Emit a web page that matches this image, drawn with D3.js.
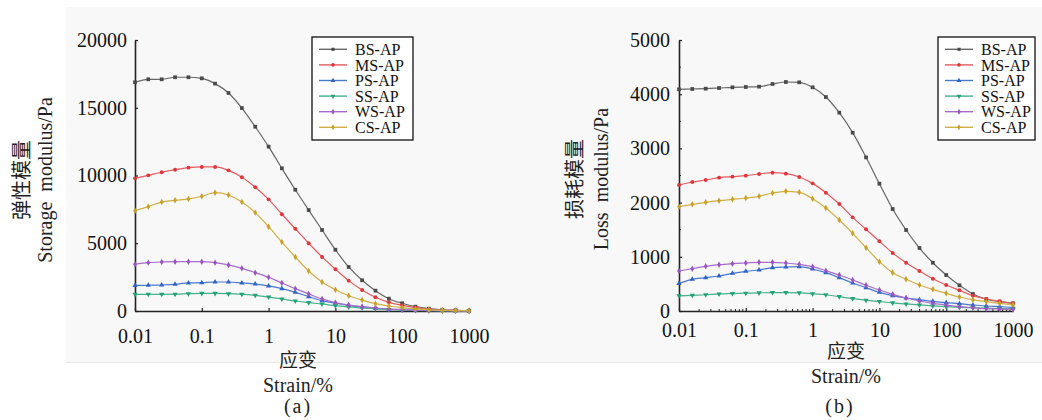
<!DOCTYPE html>
<html><head><meta charset="utf-8">
<script src="https://cdn.jsdelivr.net/npm/d3@7"></script>
<style>
html,body{margin:0;padding:0;background:#fff;}
svg{display:block;}
</style>
</head><body>
<svg id="chart" width="1042" height="420"></svg>
<script>
// ---- data ----
const strain = [0.01, 0.0158, 0.0251, 0.0398, 0.0631, 0.1, 0.158, 0.251, 0.398, 0.631, 1, 1.58, 2.51, 3.98, 6.31, 10, 15.8, 25.1, 39.8, 63.1, 100, 158, 251, 398, 631, 1000];
const seriesNames = ["BS-AP", "MS-AP", "PS-AP", "SS-AP", "WS-AP", "CS-AP"];
const xTickValues = [0.01, 0.1, 1, 10, 100, 1000];
const xTickLabels = ["0.01", "0.1", "1", "10", "100", "1000"];
const storageTicks = [0, 5000, 10000, 15000, 20000];
const lossTicks = [0, 1000, 2000, 3000, 4000, 5000];

const storageBS = [16880, 17100, 17100, 17250, 17250, 17170, 16780, 16090, 14980, 13600, 12130, 10530, 8950, 7450, 5980, 4520, 3250, 2270, 1500, 910, 570, 320, 170, 90, 50, 20];
const storageMS = [9790, 10010, 10240, 10430, 10580, 10630, 10630, 10380, 9870, 9130, 8240, 7140, 6070, 5000, 3990, 3080, 2240, 1550, 1010, 640, 420, 250, 140, 80, 40, 20];
const storagePS = [1890, 1900, 1920, 1970, 2070, 2090, 2140, 2140, 2070, 1990, 1850, 1650, 1380, 1060, 760, 570, 420, 300, 200, 130, 90, 60, 40, 30, 20, 15];
const storageSS = [1230, 1230, 1230, 1240, 1280, 1300, 1300, 1280, 1230, 1160, 1030, 890, 740, 620, 520, 390, 300, 220, 160, 110, 80, 50, 30, 20, 15, 10];
const storageWS = [3450, 3570, 3620, 3640, 3640, 3640, 3570, 3400, 3150, 2830, 2490, 2070, 1650, 1260, 890, 620, 440, 320, 220, 150, 100, 60, 40, 25, 15, 10];
const storageCS = [7400, 7700, 8040, 8170, 8270, 8470, 8730, 8560, 8040, 7260, 6220, 5090, 3990, 2950, 2140, 1570, 1130, 810, 540, 370, 250, 150, 90, 50, 30, 15];

const lossBS = [4090, 4096, 4102, 4114, 4127, 4133, 4139, 4188, 4225, 4219, 4127, 3948, 3659, 3290, 2835, 2349, 1882, 1494, 1162, 891, 664, 474, 314, 216, 172, 142];
const lossMS = [2325, 2380, 2417, 2460, 2479, 2497, 2528, 2552, 2534, 2472, 2355, 2183, 1974, 1728, 1507, 1286, 1070, 891, 738, 596, 480, 382, 283, 221, 179, 142];
const lossPS = [510, 585, 615, 646, 695, 732, 756, 800, 812, 818, 775, 707, 615, 517, 430, 345, 283, 240, 209, 179, 154, 135, 111, 92, 80, 68];
const lossSS = [280, 290, 300, 315, 322, 328, 335, 340, 340, 335, 318, 300, 265, 230, 200, 175, 150, 130, 112, 95, 80, 68, 60, 52, 46, 40];
const lossWS = [738, 781, 824, 855, 873, 886, 898, 898, 886, 861, 818, 744, 664, 572, 474, 387, 308, 240, 185, 142, 111, 80, 62, 43, 37, 30];
const lossCS = [1925, 1968, 2005, 2035, 2060, 2085, 2116, 2177, 2208, 2190, 2072, 1900, 1679, 1433, 1168, 910, 707, 585, 480, 400, 327, 258, 209, 172, 142, 116];

// ---- styles ----
const colors = ["#4a4a4a", "#e0353b", "#2f63c4", "#22a277", "#9a55c4", "#c9a125"];
const lineColors = ["#666666", "#e55a5e", "#4a78cc", "#45b08a", "#a56ccc", "#d0af45"];
const symbols = [d3.symbolSquare, d3.symbolCircle, d3.symbolTriangle, d3.symbolTriangle, d3.symbolDiamond, d3.symbolDiamond];
const rotations = [0, 0, 0, 180, 0, 0];
const serif = "'Liberation Serif','Times New Roman',serif";
const cjk = "'Noto Sans CJK SC','Noto Sans CJK JP',sans-serif";

const svg = d3.select("#chart");
svg.append("rect").attr("x", 66).attr("y", 7).attr("width", 1042 - 66).attr("height", 355).attr("fill", "#f8f8f8");
svg.append("line").attr("x1", 66).attr("x2", 1042).attr("y1", 362.5).attr("y2", 362.5).attr("stroke", "#e6e6e6");

function drawPanel(cfg) {
  const g = svg.append("g");
  const x = d3.scaleLog().domain([0.01, 1000]).range([cfg.left, cfg.left + 334]);
  const y = d3.scaleLinear().domain([0, cfg.ymax]).range([311, 40]);

  // axes
  const xa = d3.axisBottom(x).tickValues(xTickValues).tickFormat((d, i) => xTickLabels[i])
    .tickSizeInner(-3).tickSizeOuter(0).tickPadding(cfg.xPad);
  const gx = g.append("g").attr("transform", "translate(0,311)").call(xa);
  const ya = d3.axisLeft(y).tickValues(cfg.yTicks).tickFormat(d => String(d))
    .tickSizeInner(-3).tickSizeOuter(0).tickPadding(cfg.yPad);
  const gy = g.append("g").attr("transform", `translate(${cfg.left},0)`).call(ya);
  [gx, gy].forEach(a => {
    a.selectAll("text").attr("font-family", serif).attr("font-size", 20).attr("fill", "#111");
    a.selectAll("line").attr("stroke", "#222").attr("stroke-width", 1.2);
    a.select(".domain").attr("stroke", "#222").attr("stroke-width", 1.6);
  });

  if (cfg.minor) {
    const minorX = [];
    xTickValues.slice(0, -1).forEach(d => { for (let k = 2; k <= 9; k++) minorX.push(d * k); });
    g.selectAll(".mx").data(minorX).enter().append("line")
      .attr("x1", d => x(d)).attr("x2", d => x(d)).attr("y1", 311).attr("y2", 309)
      .attr("stroke", "#222").attr("stroke-width", 1);
    const minorY = d3.range(500, cfg.ymax, 1000);
    g.selectAll(".my").data(minorY).enter().append("line")
      .attr("x1", cfg.left).attr("x2", cfg.left + 2).attr("y1", d => y(d)).attr("y2", d => y(d))
      .attr("stroke", "#222").attr("stroke-width", 1);
  }

  // series
  const line = d3.line().x((d, i) => x(strain[i])).y(d => y(d)).curve(d3.curveMonotoneX);
  cfg.series.forEach((vals, si) => {
    g.append("path").attr("d", line(vals)).attr("fill", "none")
      .attr("stroke", lineColors[si]).attr("stroke-width", 1.2);
    g.selectAll(null).data(vals).enter().append("path")
      .attr("d", d3.symbol().type(symbols[si]).size(si === 0 ? 14 : 12))
      .attr("transform", (d, i) => `translate(${x(strain[i])},${y(d)}) rotate(${rotations[si]})`)
      .attr("fill", colors[si]);
  });

  // legend
  const lg = g.append("g");
  lg.append("rect").attr("x", cfg.legX).attr("y", 37).attr("width", cfg.legW).attr("height", 103)
    .attr("fill", "#fff").attr("stroke", "#111").attr("stroke-width", 1.3);
  seriesNames.forEach((name, si) => {
    const cy = 49.3 + si * 15.6;
    lg.append("line").attr("x1", cfg.legX + 7).attr("x2", cfg.legX + 35).attr("y1", cy).attr("y2", cy)
      .attr("stroke", lineColors[si]).attr("stroke-width", 1.4);
    lg.append("path").attr("d", d3.symbol().type(symbols[si]).size(10))
      .attr("transform", `translate(${cfg.legX + 21},${cy}) rotate(${rotations[si]})`).attr("fill", colors[si]);
    lg.append("text").attr("x", cfg.legX + 43).attr("y", cy).attr("dy", "0.35em")
      .attr("font-family", serif).attr("font-size", 16).attr("fill", "#111").text(name);
  });

  // axis titles
  g.append("text").attr("transform", `translate(${cfg.cjkX},${cfg.titleY}) rotate(-90)`)
    .attr("text-anchor", "middle").attr("dominant-baseline", "central")
    .attr("font-family", cjk).attr("font-size", 20).attr("fill", "#222").text(cfg.cjkTitle);
  g.append("text").attr("transform", `translate(${cfg.enX},${cfg.titleY}) rotate(-90)`)
    .attr("text-anchor", "middle").attr("dominant-baseline", "central").style("white-space", "pre")
    .attr("font-family", serif).attr("font-size", 20).attr("fill", "#222").text(cfg.enTitle);
  g.append("text").attr("x", cfg.xlabX).attr("y", cfg.xlabY1).attr("text-anchor", "middle")
    .attr("font-family", cjk).attr("font-size", 19).attr("fill", "#222").text("应变");
  g.append("text").attr("x", cfg.xlabX).attr("y", cfg.xlabY2).attr("text-anchor", "middle")
    .attr("font-family", serif).attr("font-size", 20).attr("fill", "#222").text("Strain/%");
  g.append("text").attr("x", cfg.capX).attr("y", 413).attr("text-anchor", "middle").attr("letter-spacing", 2)
    .attr("font-family", serif).attr("font-size", 20).attr("fill", "#222").text(cfg.caption);
}

drawPanel({
  left: 135, ymax: 20000, yTicks: storageTicks, xPad: 18, yPad: 8, minor: false,
  series: [storageBS, storageMS, storagePS, storageSS, storageWS, storageCS],
  legX: 312, legW: 101,
  cjkX: 20, enX: 45, titleY: 180, cjkTitle: "弹性模量", enTitle: "Storage  modulus/Pa",
  xlabX: 298, xlabY1: 367, xlabY2: 392, capX: 298, caption: "(a)"
});
drawPanel({
  left: 679, ymax: 5000, yTicks: lossTicks, xPad: 12, yPad: 9, minor: true,
  series: [lossBS, lossMS, lossPS, lossSS, lossWS, lossCS],
  legX: 938, legW: 97,
  cjkX: 573, enX: 601, titleY: 179, cjkTitle: "损耗模量", enTitle: "Loss  modulus/Pa",
  xlabX: 846, xlabY1: 358, xlabY2: 383, capX: 840, caption: "(b)"
});
</script>
</body></html>
